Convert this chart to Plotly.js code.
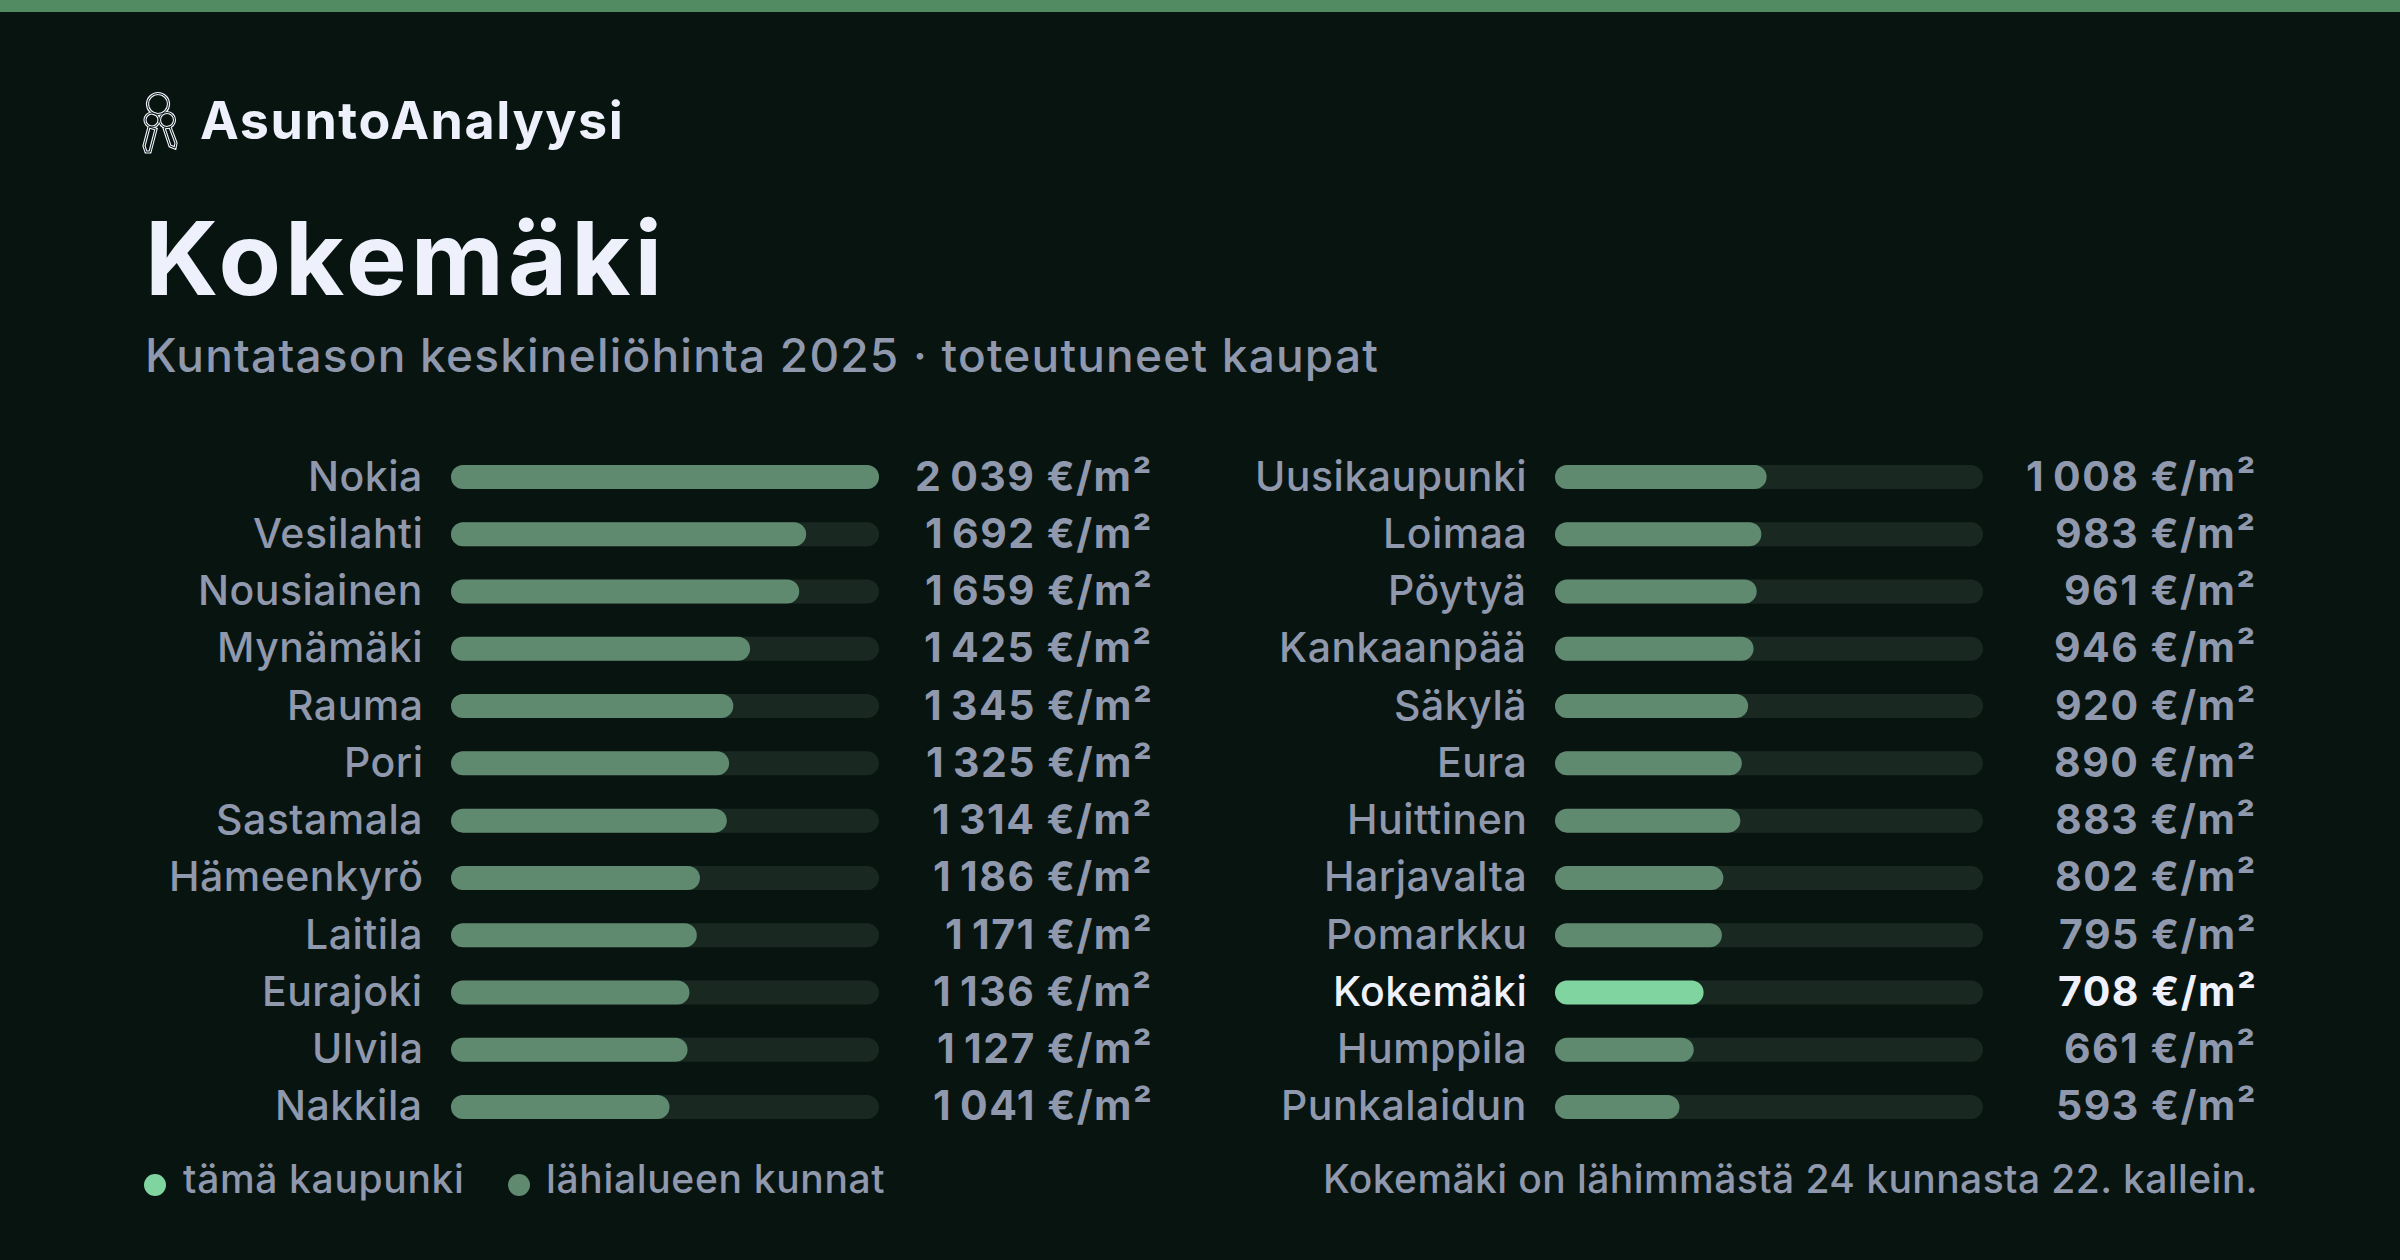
<!DOCTYPE html>
<html><head><meta charset="utf-8">
<script src="https://cdn.plot.ly/plotly-3.0.1.min.js"></script>
<style>html,body{margin:0;padding:0;background:#081410;}#c{width:2400px;height:1260px;}</style>
</head><body><div id="c"></div>
<script>
const leftNames=["Nokia","Vesilahti","Nousiainen","Mynämäki","Rauma","Pori","Sastamala","Hämeenkyrö","Laitila","Eurajoki","Ulvila","Nakkila"];
const leftValues=[2039,1692,1659,1425,1345,1325,1314,1186,1171,1136,1127,1041];
const rightNames=["Uusikaupunki","Loimaa","Pöytyä","Kankaanpää","Säkylä","Eura","Huittinen","Harjavalta","Pomarkku","Kokemäki","Humppila","Punkalaidun"];
const rightValues=[1008,983,961,946,920,890,883,802,795,708,661,593];
const highlight="Kokemäki";
const brand="AsuntoAnalyysi", heading="Kokemäki", subtitle="Kuntatason keskineliöhinta 2025 · toteutuneet kaupat";
const legendA="tämä kaupunki", legendB="lähialueen kunnat";
const footnote="Kokemäki on lähimmästä 24 kunnasta 22. kallein.";
const maxV=Math.max(...leftValues,...rightValues);

const W=2400,H=1260,BG="#081410",TRACK="#1a2822",BAR="#5f8a70",STRIP="#528a62",HI="#80d4a0",MUTED="#8f98ad",WHITE="#eef1fb";
const FONT="Inter, sans-serif";
const px=x=>x/W, py=y=>1-y/H;
const fmt=v=>{const s=String(v);return s.length>3?s.slice(0,-3)+"\u2009"+s.slice(-3):s;};
const sp=(t,em)=>`<span style="letter-spacing:${em}em">${t}</span>`;

function panel(names,vals,xa,ya){
  // an explicit base makes Plotly round both ends of a bar
  const common={type:"bar",orientation:"h",y:names,base:0,xaxis:xa,yaxis:ya,showlegend:false,hoverinfo:"skip"};
  return [
    {...common,x:names.map(()=>maxV),marker:{color:TRACK}},
    {...common,x:vals,marker:{color:names.map(n=>n===highlight?HI:BAR)}}
  ];
}
const traces=[...panel(leftNames,leftValues,"x","y"),...panel(rightNames,rightValues,"x2","y2")];

const annotations=[];
function rowLabels(names,vals,xr,shift){
  names.forEach((n,i)=>{
    const c=n===highlight?WHITE:MUTED;
    annotations.push({xref:xr,yref:xr==="x"?"y":"y2",x:0,y:n,xanchor:"right",yanchor:"middle",xshift:-26,yshift:1.5,showarrow:false,
      text:sp(n,0.012),font:{family:FONT,size:41,weight:500,color:c}});
    annotations.push({xref:xr,yref:xr==="x"?"y":"y2",x:maxV,y:n,xanchor:"right",yanchor:"middle",xshift:shift,yshift:1.5,showarrow:false,
      text:sp(fmt(vals[i])+" €/m²",0.036),font:{family:FONT,size:41,weight:700,color:c}});
  });
}
rowLabels(leftNames,leftValues,"x",276);
rowLabels(rightNames,rightValues,"x2",276);
const pa=(x,y,text,size,color,anchor,weight,em)=>annotations.push({xref:"paper",yref:"paper",x:px(x),y:py(y),xanchor:anchor||"left",yanchor:"middle",showarrow:false,text:sp(text,em),font:{family:FONT,size,color,weight:weight||400}});
pa(198,121,brand,52,WHITE,"left",700,0.03);
pa(143,258,heading,102,WHITE,"left",700,0.04);
pa(143,355,subtitle,46,MUTED,"left",500,0.026);
pa(181,1178,legendA,39,MUTED,"left",500,0.017);
pa(544,1178,legendB,39,MUTED,"left",500,0.017);
pa(2260,1178,footnote,39,MUTED,"right",500,0.011);

const ring=(cx,cy,r,c,w)=>({type:"circle",xref:"paper",yref:"paper",x0:px(cx-r),x1:px(cx+r),y0:py(cy+r),y1:py(cy-r),fillcolor:"rgba(0,0,0,0)",line:{color:c,width:w}});
const poly=(pts,c,w)=>({type:"path",xref:"paper",yref:"paper",path:"M"+pts.map(p=>px(p[0])+" "+py(p[1])).join(" L")+" Z",fillcolor:"rgba(0,0,0,0)",line:{color:c,width:w}});
const keyL=[[149,127],[144,146],[146,152],[150,152],[156,129]];
const keyR=[[164,128],[170,146],[175,148],[176,143],[170,127]];
const icon=[];
[[WHITE,3.2],[BG,1]].forEach(([c,w])=>{
  icon.push(poly(keyL,c,w),poly(keyR,c,w),ring(158,104,10.5,c,w),ring(152,120,7,c,w),ring(167,120,7.5,c,w));
});
const shapes=[
 {type:"rect",xref:"paper",yref:"paper",x0:0,x1:1,y0:py(12),y1:1,fillcolor:STRIP,line:{width:0}},
 {type:"circle",xref:"paper",yref:"paper",x0:px(144),x1:px(166),y0:py(1196),y1:py(1174),fillcolor:HI,line:{width:0}},
 {type:"circle",xref:"paper",yref:"paper",x0:px(508),x1:px(530),y0:py(1196),y1:py(1174),fillcolor:BAR,line:{width:0}},
 ...icon
];
const plotTop=477-28.635, plotBot=1107+28.635;
const axX=(d,anchor)=>({domain:d,range:[0,maxV],visible:false,fixedrange:true,anchor});
const axY=(anchor)=>({anchor,domain:[py(plotBot),py(plotTop)],type:"category",autorange:false,range:[11.5,-0.5],visible:false,fixedrange:true});
const layout={width:W,height:H,margin:{l:0,r:0,t:0,b:0},paper_bgcolor:BG,plot_bgcolor:BG,barmode:"overlay",bargap:1-24/57.27,barcornerradius:12,showlegend:false,
  xaxis:axX([px(451),px(879)],"y"),yaxis:axY("x"),xaxis2:axX([px(1555),px(1983)],"y2"),yaxis2:axY("x2"),annotations,shapes};
Plotly.newPlot("c",traces,layout,{displayModeBar:false,staticPlot:true});
</script></body></html>
